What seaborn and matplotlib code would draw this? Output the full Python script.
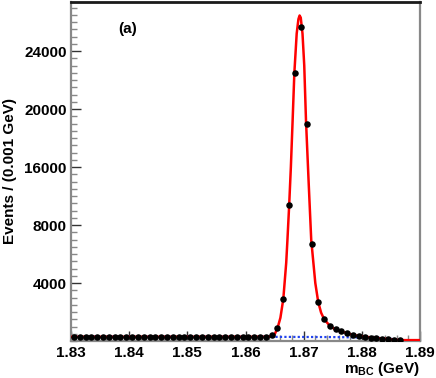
import numpy as np
import pandas as pd
import matplotlib
matplotlib.use("Agg")
import matplotlib.pyplot as plt
import seaborn as sns
from matplotlib.ticker import MultipleLocator, FixedLocator, FixedFormatter

# --- donnees (unites de l'axe) ---
bin_centres = [round(1.8305 + 0.001 * i, 4) for i in range(57)]
evenements = [300, 290, 295, 285, 300, 290, 280, 295, 290, 300,
              285, 290, 295, 280, 290, 300, 290, 285, 295, 290,
              280, 290, 300, 295, 285, 290, 295, 280, 290, 300,
              290, 285, 310, 300, 414, 876, 2917, 9359, 18462, 21676,
              14986, 6669, 2690, 1538, 1055, 807, 690, 560, 440, 345,
              290, 230, 190, 150, 110, 75, 50]

fit_x = [1.8300, 1.8500, 1.8630, 1.8642, 1.8650, 1.8655, 1.8660, 1.8665,
         1.8670, 1.8672, 1.8675, 1.8678, 1.8681, 1.8684, 1.8688, 1.8691,
         1.8693, 1.8695, 1.8698, 1.8701, 1.8704, 1.87085, 1.8713, 1.8720,
         1.8725, 1.8730, 1.8735, 1.8745, 1.8755, 1.8765, 1.8775, 1.8785,
         1.8800, 1.8820, 1.8840, 1.8855, 1.8865, 1.8900]
fit_y = [290, 290, 290, 305, 450, 880, 1600, 2900,
         5400, 6900, 9300, 12000, 15200, 18500, 21200, 22200,
         22450, 22300, 21200, 19000, 15200, 11000, 6970, 4000,
         2690, 1950, 1520, 1040, 780, 650, 540, 420,
         320, 230, 150, 90, 60, 60]

bkg_x = [1.830, 1.850, 1.865, 1.875, 1.880, 1.883, 1.885, 1.8862, 1.8865, 1.890]
bkg_y = [295, 292, 285, 270, 245, 210, 150, 60, 0, 0]

ytick_pos = [4000, 8000, 12000, 16000, 20000]
ytick_lab = ["4000", "8000", "16000", "20000", "24000"]
xtick_pos = [1.83, 1.84, 1.85, 1.86, 1.87, 1.88, 1.89]

sns.set_theme(style="white")
plt.rcParams['font.family'] = ['Liberation Sans', 'DejaVu Sans']
plt.rcParams['font.weight'] = 'bold'
plt.rcParams['text.color'] = 'black'
plt.rcParams['axes.labelcolor'] = 'black'
plt.rcParams['mathtext.fontset'] = 'custom'
plt.rcParams['mathtext.rm'] = 'Liberation Sans:bold'
plt.rcParams['mathtext.bf'] = 'Liberation Sans:bold'

fig = plt.figure(figsize=(4.36, 3.78), dpi=100)
ax = fig.add_axes([71 / 436, 37 / 378, 349 / 436, 339 / 378])

df_pts = pd.DataFrame({'x': bin_centres, 'y': evenements})
df_fit = pd.DataFrame({'x': fit_x, 'y': fit_y})
df_bkg = pd.DataFrame({'x': bkg_x, 'y': bkg_y})

sns.lineplot(data=df_bkg, x='x', y='y', ax=ax, color='#2244ee', lw=1.6,
             linestyle=(0, (1, 1)), sort=False, estimator=None, zorder=2)
sns.lineplot(data=df_fit, x='x', y='y', ax=ax, color='#ff0000', lw=1.8,
             sort=False, estimator=None, zorder=3)
sns.scatterplot(data=df_pts, x='x', y='y', ax=ax, color='black', s=22,
                marker='o', edgecolor='black', linewidth=0, zorder=4)

ax.set_xlim(1.83, 1.89)
ax.set_ylim(0, 23380)

ax.xaxis.set_major_locator(FixedLocator(xtick_pos))
ax.set_xticklabels([f"{v:.2f}" for v in xtick_pos])
ax.xaxis.set_minor_locator(MultipleLocator(0.002))
ax.yaxis.set_major_locator(FixedLocator(ytick_pos))
ax.yaxis.set_major_formatter(FixedFormatter(ytick_lab))
ax.yaxis.set_minor_locator(MultipleLocator(500))

ax.tick_params(axis='both', which='major', direction='in', length=7, width=1,
               color='#333333', labelcolor='black', labelsize=11, pad=3)
ax.tick_params(axis='both', which='minor', direction='in', length=4, width=1,
               color='#888888')
ax.tick_params(axis='x', which='major', pad=3.5)
ax.tick_params(top=False, right=False, bottom=True, left=True)
ax.tick_params(which='minor', bottom=True, left=True)

for s in ['left', 'right', 'bottom']:
    ax.spines[s].set_color('#888888')
    ax.spines[s].set_linewidth(1.6)
ax.spines['top'].set_color('#1a1a1a')
ax.spines['top'].set_linewidth(2)

ax.set_xlabel(r"$\mathbf{m}_{\mathbf{BC}}$ (GeV)", fontsize=11, fontweight='bold',
              color='black')
ax.xaxis.set_label_coords(1.0, -0.083)
ax.xaxis.label.set_horizontalalignment('right')
ax.xaxis.label.set_verticalalignment('center')
ax.set_ylabel("Events / (0.001 GeV)", fontsize=11, fontweight='bold', color='black')
ax.yaxis.set_label_coords(-0.175, 0.5)
ax.yaxis.label.set_verticalalignment('center')

ax.text(0.135, 0.92, "(a)", transform=ax.transAxes, fontsize=11,
        fontweight='bold', ha='left', va='center')

fig.savefig("out.png", dpi=100)
